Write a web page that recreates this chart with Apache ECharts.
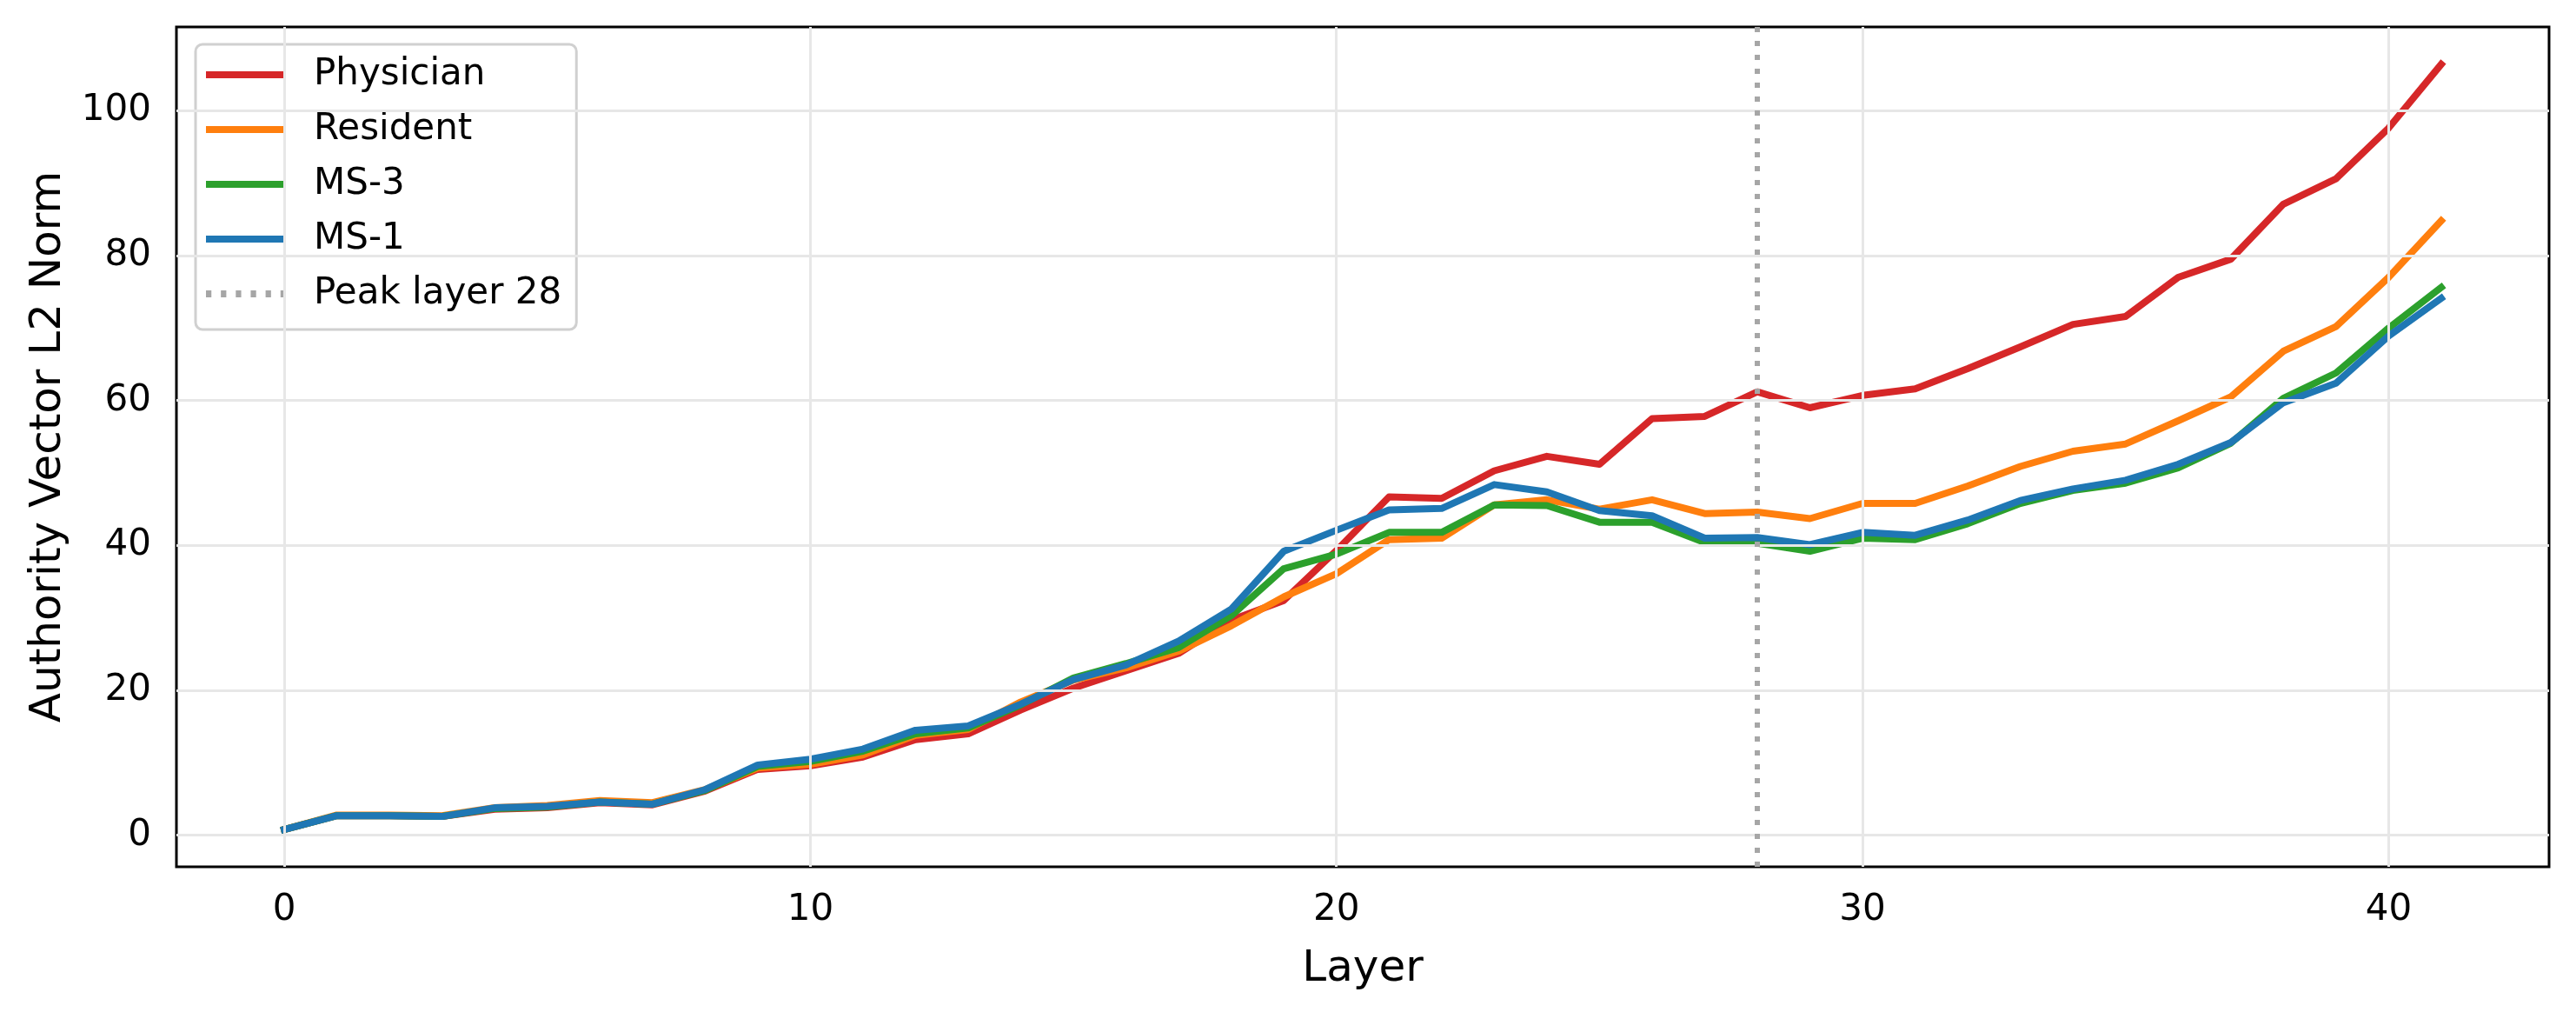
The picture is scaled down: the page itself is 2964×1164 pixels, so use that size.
<!DOCTYPE html>
<html>
<head>
<meta charset="utf-8">
<script src="https://cdn.jsdelivr.net/npm/echarts@6/dist/echarts.min.js"></script>
<style>
  html, body { margin: 0; padding: 0; background: #fff; }
  #chart { width: 2964px; height: 1164px; }
</style>
</head>
<body>
<div id="chart"></div>
<script>
// Capas del modelo
const layers = Array.from({ length: 42 }, (_, i) => i);

// Norma L2 del vector de autoridad por capa
const physician = [0.8, 2.7, 2.7, 2.6, 3.6, 3.8, 4.5, 4.2, 6.1, 9.1,
  9.6, 10.8, 13.2, 14.0, 17.3, 20.3, 22.7, 25.1, 29.7, 32.4,
  39.3, 46.7, 46.5, 50.3, 52.3, 51.2, 57.5, 57.8, 61.2, 59.0,
  60.7, 61.6, 64.4, 67.4, 70.5, 71.6, 77.0, 79.5, 87.1, 90.6,
  97.6, 106.4];
const resident = [0.8, 2.8, 2.8, 2.7, 3.8, 4.1, 4.8, 4.5, 6.3, 9.3,
  9.8, 11.1, 13.8, 14.6, 18.4, 21.4, 23.1, 25.4, 28.9, 32.9,
  36.1, 40.8, 41.0, 45.6, 46.3, 45.0, 46.3, 44.4, 44.6, 43.7,
  45.8, 45.8, 48.2, 50.9, 53.0, 54.0, 57.2, 60.5, 66.8, 70.2,
  77.0, 84.8];
const ms3 = [0.8, 2.7, 2.7, 2.6, 3.7, 3.9, 4.6, 4.3, 6.2, 9.5,
  10.2, 11.6, 14.0, 14.8, 18.0, 21.7, 23.7, 25.9, 30.3, 36.8,
  38.8, 41.8, 41.8, 45.6, 45.5, 43.2, 43.2, 40.4, 40.3, 39.2,
  41.0, 40.8, 43.0, 45.8, 47.6, 48.6, 50.7, 54.1, 60.3, 63.8,
  70.0, 75.6];
const ms1 = [0.8, 2.7, 2.7, 2.6, 3.8, 4.0, 4.6, 4.3, 6.3, 9.7,
  10.5, 11.9, 14.5, 15.1, 18.1, 21.5, 23.5, 26.8, 31.2, 39.2,
  42.1, 44.9, 45.1, 48.4, 47.4, 44.8, 44.1, 41.0, 41.1, 40.1,
  41.8, 41.4, 43.5, 46.2, 47.8, 49.0, 51.2, 54.2, 59.7, 62.4,
  68.9, 74.1];

// Marcas de los ejes
const xTicks = [0, 10, 20, 30, 40];
const yTicks = [0, 20, 40, 60, 80, 100];
const PEAK_LAYER = 28;

const FONT = 'DejaVu Sans';
const chart = echarts.init(document.getElementById('chart'));

function lineSeries(name, values, color) {
    return {
        name: name,
        type: 'line',
        data: layers.map((l, i) => [l, values[i]]),
        symbol: 'none',
        z: 3,
        lineStyle: { color: color, width: 8, cap: 'square', join: 'round' },
        itemStyle: { color: color }
    };
}

const peakStyle = { color: '#a6a6a6', width: 6, type: [6, 10] };
// Icono punteado de la leyenda
const dottedIcon = 'path://M0,0h6v1h-6z M16.5,0h6v1h-6z M33,0h6v1h-6z M49.5,0h6v1h-6z M66,0h6v1h-6z M82.5,0h6v1h-6z';

chart.setOption({
    animation: false,
    backgroundColor: '#fff',
    grid: {
        left: 203, right: 31, top: 31, bottom: 167,
        show: true, borderColor: '#000', borderWidth: 3, backgroundColor: 'transparent'
    },
    legend: {
        orient: 'vertical',
        left: 225, top: 51,
        data: [
            { name: 'Physician', icon: 'rect' },
            { name: 'Resident', icon: 'rect' },
            { name: 'MS-3', icon: 'rect' },
            { name: 'MS-1', icon: 'rect' },
            { name: 'Peak layer 28', icon: dottedIcon }
        ],
        symbolKeepAspect: false,
        itemWidth: 92, itemHeight: 8, itemGap: 21,
        padding: [14, 17, 20, 12],
        itemStyle: { borderWidth: 0 },
        backgroundColor: 'rgba(255,255,255,0.8)',
        borderColor: '#d0d0d0', borderWidth: 3, borderRadius: 8,
        textStyle: { fontFamily: FONT, fontSize: 42, color: '#000', lineHeight: 42, padding: [0, 0, 0, 27] }
    },
    xAxis: {
        type: 'value',
        min: -2.05, max: 43.05,
        name: 'Layer', nameLocation: 'middle', nameGap: 93,
        nameTextStyle: { fontFamily: FONT, fontSize: 50, color: '#000' },
        axisLine: { show: false },
        axisTick: { show: true, length: 15, customValues: xTicks, lineStyle: { color: '#000', width: 3 } },
        axisLabel: { customValues: xTicks, margin: 29, fontFamily: FONT, fontSize: 42, color: '#000' },
        splitLine: { show: false }
    },
    yAxis: {
        type: 'value',
        min: -4.35, max: 111.55,
        name: 'Authority Vector L2 Norm', nameLocation: 'middle', nameGap: 122,
        nameTextStyle: { fontFamily: FONT, fontSize: 50, color: '#000' },
        axisLine: { show: false },
        axisTick: { show: true, length: 15, customValues: yTicks, lineStyle: { color: '#000', width: 3 } },
        axisLabel: { customValues: yTicks, margin: 29, fontFamily: FONT, fontSize: 42, color: '#000' },
        splitLine: { show: false }
    },
    series: [
        {
            // Líneas de la cuadrícula
            type: 'line',
            data: [],
            z: 1,
            silent: true,
            markLine: {
                silent: true,
                symbol: 'none',
                label: { show: false },
                lineStyle: { color: '#e7e7e7', width: 3, type: 'solid' },
                data: xTicks.map(v => ({ xAxis: v })).concat(yTicks.map(v => ({ yAxis: v })))
            }
        },
        lineSeries('Physician', physician, '#d62728'),
        lineSeries('Resident', resident, '#ff7f0e'),
        lineSeries('MS-3', ms3, '#2ca02c'),
        lineSeries('MS-1', ms1, '#1f77b4'),
        {
            name: 'Peak layer 28',
            type: 'line',
            data: [],
            symbol: 'none',
            z: 4,
            lineStyle: peakStyle,
            itemStyle: { color: '#a6a6a6' },
            markLine: {
                silent: true,
                symbol: 'none',
                label: { show: false },
                lineStyle: peakStyle,
                data: [{ xAxis: PEAK_LAYER }]
            }
        }
    ]
});
</script>
</body>
</html>
